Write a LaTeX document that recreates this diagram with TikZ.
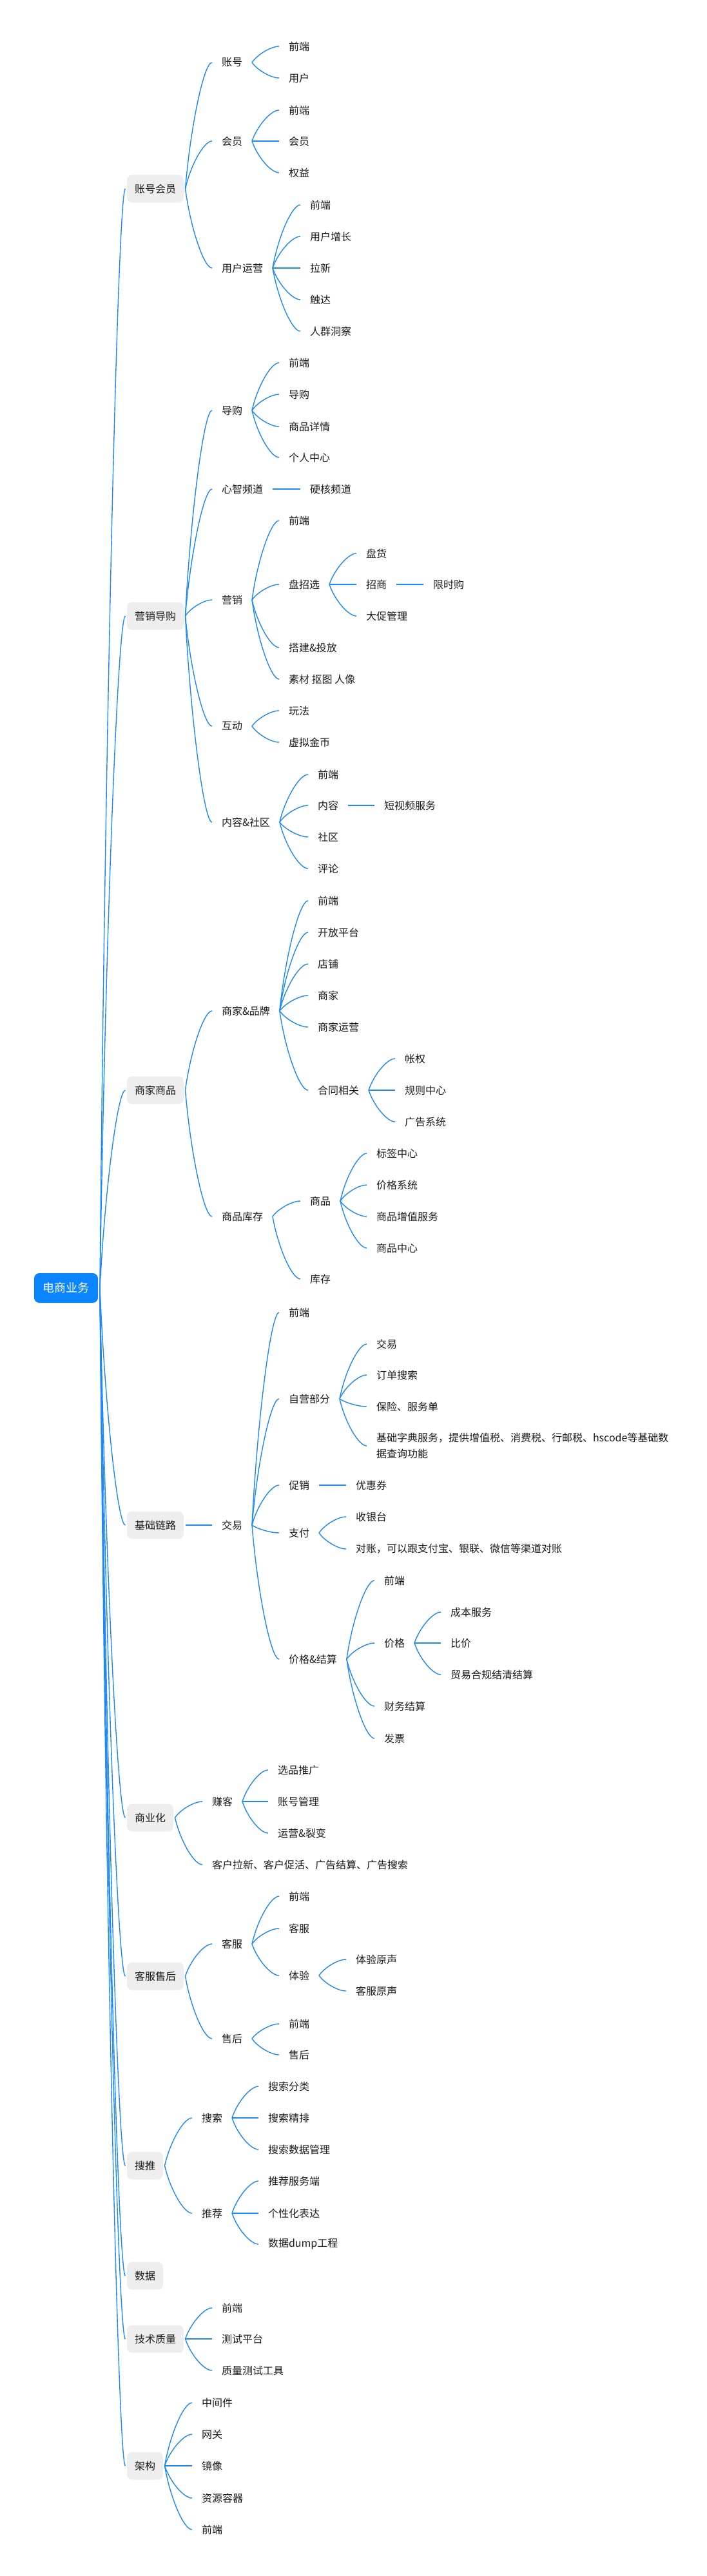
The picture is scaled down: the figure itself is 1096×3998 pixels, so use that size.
\documentclass[tikz,border=0pt]{standalone}
\usepackage{fontspec}
\setmainfont{Noto Sans CJK SC}
\usetikzlibrary{calc}
\definecolor{lineblue}{RGB}{30,136,245}
\definecolor{rootblue}{RGB}{10,132,255}
\definecolor{boxgrey}{RGB}{238,238,238}
\definecolor{txt}{RGB}{26,26,26}
\tikzset{
  conn/.style={draw=lineblue, line width=1.4pt},
  leaf/.style={anchor=west, inner xsep=15pt, inner ysep=2pt, outer sep=0pt, text=txt, font=\fontsize{16}{25}\selectfont},
  lone/.style={anchor=west, fill=boxgrey, rounded corners=8pt, inner xsep=12pt, minimum height=43pt, outer sep=2.5pt, text=txt, font=\fontsize{16}{20}\selectfont},
  rootbox/.style={anchor=west, fill=rootblue, rounded corners=8pt, inner xsep=13.5pt, minimum height=46pt, outer sep=3pt, text=white, font=\fontsize{18}{22}\selectfont},
}
\newcommand\cnx[2]{\draw[conn] let \p1=(#1.east), \p2=(#2.west) in (\p1) .. controls ({\x1+0.2*(\x2-\x1)},{\y1+0.5*(\y2-\y1)}) and ({\x2-0.3*(\x2-\x1)},\y2) .. (\p2);}
\begin{document}
\begin{tikzpicture}[x=1pt,y=-1pt]
\useasboundingbox (0,0) rectangle (1096,3998);
% root
\node[rootbox] (R) at (50,1999) {电商业务};
% level 1
\node[lone] (A) at (194.5,293) {账号会员};
\node[lone] (B) at (194.5,956) {营销导购};
\node[lone] (C) at (194.5,1692) {商家商品};
\node[lone] (D) at (194.5,2367) {基础链路};
\node[lone] (E) at (194.5,2821) {商业化};
\node[lone] (F) at (194.5,3067) {客服售后};
\node[lone] (G) at (194.5,3361) {搜推};
\node[lone] (H) at (194.5,3532) {数据};
\node[lone] (I) at (194.5,3630) {技术质量};
\node[lone] (J) at (194.5,3827) {架构};
\cnx{R}{A}\cnx{R}{B}\cnx{R}{C}\cnx{R}{D}\cnx{R}{E}
\cnx{R}{F}\cnx{R}{G}\cnx{R}{H}\cnx{R}{I}\cnx{R}{J}
% A
\node[leaf] (A1) at (329,97) {账号};
\node[leaf] (A11) at (433,72) {前端};
\node[leaf] (A12) at (433,121) {用户};
\node[leaf] (A2) at (329,219) {会员};
\node[leaf] (A21) at (433,171) {前端};
\node[leaf] (A22) at (433,219) {会员};
\node[leaf] (A23) at (433,268) {权益};
\node[leaf] (A3) at (329,416) {用户运营};
\node[leaf] (A31) at (466,318) {前端};
\node[leaf] (A32) at (466,367) {用户增长};
\node[leaf] (A33) at (466,416) {拉新};
\node[leaf] (A34) at (466,465) {触达};
\node[leaf] (A35) at (466,514) {人群洞察};
\cnx{A}{A1}\cnx{A}{A2}\cnx{A}{A3}
\cnx{A1}{A11}\cnx{A1}{A12}
\cnx{A2}{A21}\cnx{A2}{A22}\cnx{A2}{A23}
\cnx{A3}{A31}\cnx{A3}{A32}\cnx{A3}{A33}\cnx{A3}{A34}\cnx{A3}{A35}
% B
\node[leaf] (B1) at (329,637) {导购};
\node[leaf] (B11) at (433,563) {前端};
\node[leaf] (B12) at (433,612) {导购};
\node[leaf] (B13) at (433,662) {商品详情};
\node[leaf] (B14) at (433,710) {个人中心};
\node[leaf] (B2) at (329,759) {心智频道};
\node[leaf] (B21) at (466,759) {硬核频道};
\node[leaf] (B3) at (329,931) {营销};
\node[leaf] (B31) at (433,808) {前端};
\node[leaf] (B32) at (433,907) {盘招选};
\node[leaf] (B321) at (553,859) {盘货};
\node[leaf] (B322) at (553,907) {招商};
\node[leaf] (B3221) at (657,907) {限时购};
\node[leaf] (B323) at (553,956) {大促管理};
\node[leaf] (B33) at (433,1005) {搭建\&投放};
\node[leaf] (B34) at (433,1054) {素材 抠图 人像};
\node[leaf] (B4) at (329,1127) {互动};
\node[leaf] (B41) at (433,1103) {玩法};
\node[leaf] (B42) at (433,1152) {虚拟金币};
\node[leaf] (B5) at (329,1276) {内容\&社区};
\node[leaf] (B51) at (478,1202) {前端};
\node[leaf] (B52) at (478,1250) {内容};
\node[leaf] (B521) at (581,1250) {短视频服务};
\node[leaf] (B53) at (478,1299) {社区};
\node[leaf] (B54) at (478,1348) {评论};
\cnx{B}{B1}\cnx{B}{B2}\cnx{B}{B3}\cnx{B}{B4}\cnx{B}{B5}
\cnx{B1}{B11}\cnx{B1}{B12}\cnx{B1}{B13}\cnx{B1}{B14}
\cnx{B2}{B21}
\cnx{B3}{B31}\cnx{B3}{B32}\cnx{B3}{B33}\cnx{B3}{B34}
\cnx{B32}{B321}\cnx{B32}{B322}\cnx{B32}{B323}\cnx{B322}{B3221}
\cnx{B4}{B41}\cnx{B4}{B42}
\cnx{B5}{B51}\cnx{B5}{B52}\cnx{B5}{B53}\cnx{B5}{B54}\cnx{B52}{B521}
% C
\node[leaf] (C1) at (329,1569) {商家\&品牌};
\node[leaf] (C11) at (478,1398) {前端};
\node[leaf] (C12) at (478,1447) {开放平台};
\node[leaf] (C13) at (478,1496) {店铺};
\node[leaf] (C14) at (478,1545) {商家};
\node[leaf] (C15) at (478,1594) {商家运营};
\node[leaf] (C16) at (478,1692) {合同相关};
\node[leaf] (C161) at (613,1643) {帐权};
\node[leaf] (C162) at (613,1692) {规则中心};
\node[leaf] (C163) at (613,1741) {广告系统};
\node[leaf] (C2) at (329,1888) {商品库存};
\node[leaf] (C21) at (466,1864) {商品};
\node[leaf] (C211) at (569,1790) {标签中心};
\node[leaf] (C212) at (569,1839) {价格系统};
\node[leaf] (C213) at (569,1888) {商品增值服务};
\node[leaf] (C214) at (569,1937) {商品中心};
\node[leaf] (C22) at (466,1985) {库存};
\cnx{C}{C1}\cnx{C}{C2}
\cnx{C1}{C11}\cnx{C1}{C12}\cnx{C1}{C13}\cnx{C1}{C14}\cnx{C1}{C15}\cnx{C1}{C16}
\cnx{C16}{C161}\cnx{C16}{C162}\cnx{C16}{C163}
\cnx{C2}{C21}\cnx{C2}{C22}
\cnx{C21}{C211}\cnx{C21}{C212}\cnx{C21}{C213}\cnx{C21}{C214}
% D
\node[leaf] (D1) at (329,2367) {交易};
\node[leaf] (D11) at (433,2037) {前端};
\node[leaf] (D12) at (433,2171) {自营部分};
\node[leaf] (D121) at (569,2086) {交易};
\node[leaf] (D122) at (569,2134) {订单搜索};
\node[leaf] (D123) at (569,2183) {保险、服务单};
\node[leaf, align=left] (D124) at (569,2244) {基础字典服务，提供增值税、消费税、行邮税、hscode等基础数\\据查询功能};
\node[leaf] (D13) at (433,2305) {促销};
\node[leaf] (D131) at (537,2305) {优惠券};
\node[leaf] (D14) at (433,2379) {支付};
\node[leaf] (D141) at (537,2354) {收银台};
\node[leaf] (D142) at (537,2404) {对账，可以跟支付宝、银联、微信等渠道对账};
\node[leaf] (D15) at (433,2575) {价格\&结算};
\node[leaf] (D151) at (581,2453) {前端};
\node[leaf] (D152) at (581,2550) {价格};
\node[leaf] (D1521) at (684,2502) {成本服务};
\node[leaf] (D1522) at (684,2550) {比价};
\node[leaf] (D1523) at (684,2599) {贸易合规结清结算};
\node[leaf] (D153) at (581,2648) {财务结算};
\node[leaf] (D154) at (581,2698) {发票};
\cnx{D}{D1}
\cnx{D1}{D11}\cnx{D1}{D12}\cnx{D1}{D13}\cnx{D1}{D14}\cnx{D1}{D15}
\cnx{D12}{D121}\cnx{D12}{D122}\cnx{D12}{D123}\cnx{D12}{D124}
\cnx{D13}{D131}
\cnx{D14}{D141}\cnx{D14}{D142}
\cnx{D15}{D151}\cnx{D15}{D152}\cnx{D15}{D153}\cnx{D15}{D154}
\cnx{D152}{D1521}\cnx{D152}{D1522}\cnx{D152}{D1523}
% E
\node[leaf] (E1) at (314,2796) {赚客};
\node[leaf] (E11) at (416,2747) {选品推广};
\node[leaf] (E12) at (416,2796) {账号管理};
\node[leaf] (E13) at (416,2845) {运营\&裂变};
\node[leaf] (E2) at (314,2894) {客户拉新、客户促活、广告结算、广告搜索};
\cnx{E}{E1}\cnx{E}{E2}
\cnx{E1}{E11}\cnx{E1}{E12}\cnx{E1}{E13}
% F
\node[leaf] (F1) at (329,3017) {客服};
\node[leaf] (F11) at (433,2943) {前端};
\node[leaf] (F12) at (433,2993) {客服};
\node[leaf] (F13) at (433,3066) {体验};
\node[leaf] (F131) at (537,3041) {体验原声};
\node[leaf] (F132) at (537,3090) {客服原声};
\node[leaf] (F2) at (329,3164) {售后};
\node[leaf] (F21) at (433,3141) {前端};
\node[leaf] (F22) at (433,3189) {售后};
\cnx{F}{F1}\cnx{F}{F2}
\cnx{F1}{F11}\cnx{F1}{F12}\cnx{F1}{F13}
\cnx{F13}{F131}\cnx{F13}{F132}
\cnx{F2}{F21}\cnx{F2}{F22}
% G
\node[leaf] (G1) at (298,3287) {搜索};
\node[leaf] (G11) at (401,3238) {搜索分类};
\node[leaf] (G12) at (401,3287) {搜索精排};
\node[leaf] (G13) at (401,3336) {搜索数据管理};
\node[leaf] (G2) at (298,3435) {推荐};
\node[leaf] (G21) at (401,3385) {推荐服务端};
\node[leaf] (G22) at (401,3435) {个性化表达};
\node[leaf] (G23) at (401,3483) {数据dump工程};
\cnx{G}{G1}\cnx{G}{G2}
\cnx{G1}{G11}\cnx{G1}{G12}\cnx{G1}{G13}
\cnx{G2}{G21}\cnx{G2}{G22}\cnx{G2}{G23}
% I
\node[leaf] (I1) at (329,3582) {前端};
\node[leaf] (I2) at (329,3630) {测试平台};
\node[leaf] (I3) at (329,3679) {质量测试工具};
\cnx{I}{I1}\cnx{I}{I2}\cnx{I}{I3}
% J
\node[leaf] (J1) at (298,3729) {中间件};
\node[leaf] (J2) at (298,3778) {网关};
\node[leaf] (J3) at (298,3827) {镜像};
\node[leaf] (J4) at (298,3877) {资源容器};
\node[leaf] (J5) at (298,3926) {前端};
\cnx{J}{J1}\cnx{J}{J2}\cnx{J}{J3}\cnx{J}{J4}\cnx{J}{J5}
\end{tikzpicture}
\end{document}
